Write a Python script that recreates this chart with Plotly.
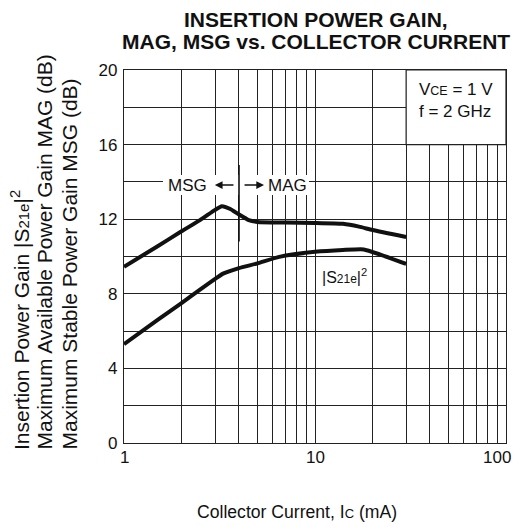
import numpy as np
import plotly.graph_objects as go

# MSG / MAG curve (dB vs mA)
msg_x = [1, 1.5, 2, 2.5, 3, 3.25, 3.6, 4, 4.5, 5, 7, 10, 14, 17, 20, 30]
msg_y = [9.45, 10.55, 11.35, 11.95, 12.5, 12.7, 12.55, 12.25, 11.95, 11.85, 11.82, 11.8, 11.75, 11.6, 11.42, 11.05]

# |S21e|^2 curve (dB vs mA)
s21_x = [1, 1.5, 2, 2.5, 3, 3.3, 4, 5, 6.5, 10, 14, 18, 22, 30]
s21_y = [5.3, 6.6, 7.5, 8.22, 8.8, 9.08, 9.38, 9.63, 9.98, 10.25, 10.35, 10.38, 10.1, 9.6]

x_grid = [1, 2, 3, 4, 5, 6, 7, 8, 9, 10, 20, 30, 40, 50, 60, 70, 80, 90, 100]
x_label_vals = [1, 10, 100]
x_label_text = ["1", "10", "100"]
y_grid = [0, 2, 4, 6, 8, 10, 12, 14, 16, 18, 20]
y_labels = ["0", "", "4", "", "8", "", "12", "", "16", "", "20"]

FONT = "Liberation Sans, Arial, sans-serif"
INK = "#111"
lg = np.log10

# page-pixel helpers (plot area spans page px 124..506 horizontally, 70..443 vertically)
def px(q):
    return (q - 124) / 382.0

def py(p):
    return (443 - p) / 373.0

fig = go.Figure()
for xs, ys in ((msg_x, msg_y), (s21_x, s21_y)):
    fig.add_trace(go.Scatter(x=xs, y=ys, mode="lines",
                             line=dict(color=INK, width=4, shape="spline", smoothing=0.5),
                             showlegend=False, hoverinfo="skip"))

shapes = [
    dict(type="rect", xref="x", yref="y", x0=30, x1=100, y0=16, y1=20,
         fillcolor="white", line=dict(color="#222", width=1.2), layer="between"),
    dict(type="rect", xref="x", yref="y", x0=1.6, x1=9.3, y0=13.3, y1=14.37,
         fillcolor="white", line=dict(width=0), layer="between"),
    dict(type="line", xref="x", yref="y", x0=4, x1=4, y0=10.8, y1=14.9,
         line=dict(color=INK, width=1.6), layer="above"),
]

annotations = [
    dict(text="<b>INSERTION POWER GAIN,</b>",
         xref="paper", yref="paper", x=px(316), y=py(20), xanchor="center", yanchor="middle",
         showarrow=False, font=dict(size=21, color=INK, family=FONT)),
    dict(text="<b>MAG, MSG vs. COLLECTOR CURRENT</b>",
         xref="paper", yref="paper", x=px(316), y=py(42), xanchor="center", yanchor="middle",
         showarrow=False, font=dict(size=21, color=INK, family=FONT)),
    dict(text="Collector Current, I<span style='font-size:13px'>C</span> (mA)",
         xref="paper", yref="paper", x=px(297), y=py(512), xanchor="center", yanchor="middle",
         showarrow=False, font=dict(size=17.6, color=INK, family=FONT)),
    dict(text="Insertion Power Gain |S<span style='font-size:15px'>21e</span>|<sup>2</sup>",
         xref="paper", yref="paper", x=px(20), y=py(452), xanchor="center", yanchor="bottom",
         textangle=-90, showarrow=False, font=dict(size=21, color=INK, family=FONT)),
    dict(text="Maximum Available Power Gain MAG (dB)",
         xref="paper", yref="paper", x=px(44), y=py(452), xanchor="center", yanchor="bottom",
         textangle=-90, showarrow=False, font=dict(size=21, color=INK, family=FONT)),
    dict(text="Maximum Stable Power Gain MSG (dB)",
         xref="paper", yref="paper", x=px(69), y=py(452), xanchor="center", yanchor="bottom",
         textangle=-90, showarrow=False, font=dict(size=21, color=INK, family=FONT)),
    dict(text="V<span style='font-size:12.5px'>CE</span> = 1 V<br>f = 2 GHz",
         xref="x", yref="y", x=lg(34.2), y=18.34, xanchor="left", yanchor="middle", align="left",
         showarrow=False, font=dict(size=17, color=INK, family=FONT)),
    dict(text="MSG", xref="x", yref="y", x=lg(2.14), y=13.8, xanchor="center", yanchor="middle",
         showarrow=False, font=dict(size=17, color=INK, family=FONT)),
    dict(text="MAG", xref="x", yref="y", x=lg(7.18), y=13.8, xanchor="center", yanchor="middle",
         showarrow=False, font=dict(size=17, color=INK, family=FONT)),
    dict(text="", xref="x", yref="y", x=lg(2.99), y=13.83, ax=lg(3.81), ay=13.83,
         axref="x", ayref="y", showarrow=True, arrowhead=2, arrowsize=1.1, arrowwidth=1.4,
         arrowcolor=INK),
    dict(text="", xref="x", yref="y", x=lg(5.41), y=13.83, ax=lg(4.2), ay=13.83,
         axref="x", ayref="y", showarrow=True, arrowhead=2, arrowsize=1.1, arrowwidth=1.4,
         arrowcolor=INK),
    dict(text="|S<span style='font-size:12px'>21e</span>|<sup>2</sup>",
         xref="x", yref="y", x=lg(14.3), y=8.98, xanchor="center", yanchor="middle",
         showarrow=False, font=dict(size=16, color=INK, family=FONT)),
]

# x-axis decade labels placed on the log axis (last one kept inside the page edge)
for i, (v, t) in enumerate(zip(x_label_vals, x_label_text)):
    last = i == len(x_label_vals) - 1
    annotations.append(dict(text=t, xref="x", yref="paper", x=lg(v), y=py(457),
                            xanchor="right" if last else "center", yanchor="middle",
                            xshift=7 if last else 0, showarrow=False,
                            font=dict(size=17, color=INK, family=FONT)))

axis_common = dict(showgrid=True, gridcolor="#222", gridwidth=1, zeroline=False,
                   showline=True, linecolor="#222", linewidth=1.2, mirror=True, ticks="")

# The page body adds an 8px margin on every side; the figure starts at page (8, 8).
fig.update_layout(
    width=505, height=515,
    margin=dict(l=116, r=7, t=62, b=80),
    paper_bgcolor="white", plot_bgcolor="white",
    font=dict(family=FONT, size=17, color=INK),
    shapes=shapes, annotations=annotations,
    xaxis=dict(type="log", range=[0, 2], tickvals=x_grid, showticklabels=False, **axis_common),
    yaxis=dict(range=[0, 20], tickvals=y_grid, ticktext=y_labels, ticklabelstandoff=2,
               tickfont=dict(size=17, family=FONT, color=INK), **axis_common),
)

fig.write_html("out.html", config={"displayModeBar": False})
